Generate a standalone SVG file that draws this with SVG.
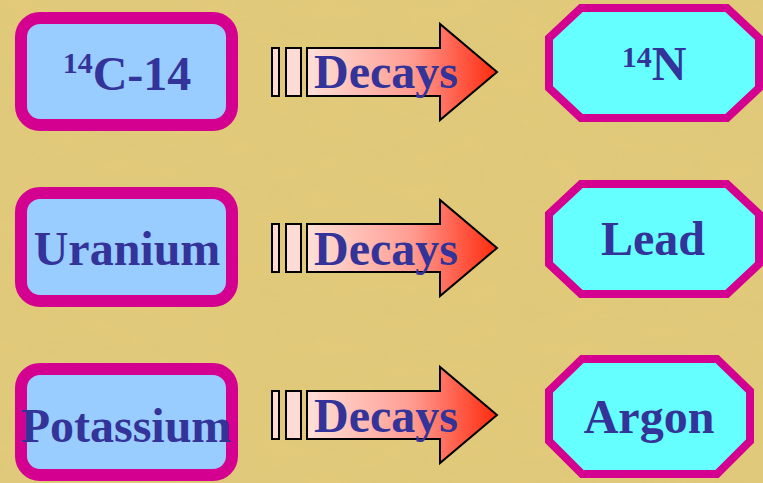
<svg xmlns="http://www.w3.org/2000/svg" width="763" height="483" viewBox="0 0 763 483">
<style>
.box{fill:#99CCFF;stroke:#D4008F;stroke-width:12}
.oct{fill:#66FFFF;stroke:#D4008F;stroke-width:8;stroke-linejoin:miter}
.lbl{font-family:"Liberation Serif","Times New Roman",serif;font-weight:bold;fill:#333399;font-size:48px;text-anchor:middle}
.sup{font-size:30px}
.bar{fill:#FFDCD3;stroke:#000;stroke-width:2}
.arr{fill:url(#ag);stroke:#000;stroke-width:2;stroke-linejoin:miter}
</style>
<defs>
<linearGradient id="ag" x1="0" y1="0" x2="1" y2="0">
<stop offset="0" stop-color="#FFE0D8"/>
<stop offset="0.55" stop-color="#FF9C92"/>
<stop offset="1" stop-color="#FF2A0E"/>
</linearGradient>
<filter id="tex" x="0" y="0" width="100%" height="100%">
<feTurbulence type="fractalNoise" baseFrequency="0.02 0.05" numOctaves="3" seed="4"/>
<feColorMatrix type="matrix" values="0 0 0 0 0.5  0 0 0 0 0.42  0 0 0 0 0.2  0 0 0 0.25 -0.05"/>
</filter>
</defs>
<rect width="763" height="483" fill="#E2CA7A"/>
<rect width="763" height="483" filter="url(#tex)" opacity="0.45"/>

<g id="c14">
<rect class="box" x="21" y="18" width="211" height="107" rx="19"/>
<text class="lbl" x="127" y="90"><tspan class="sup" dy="-17">14</tspan><tspan dy="17">C-14</tspan></text>
</g>
<g id="uranium">
<rect class="box" x="21" y="193" width="211" height="108" rx="19"/>
<text class="lbl" x="127" y="265">Uranium</text>
</g>
<g id="potassium">
<rect class="box" x="21" y="369" width="211" height="106" rx="19"/>
<text class="lbl" x="126" y="442">Potassium</text>
</g>

<g id="n14">
<polygon class="oct" points="581,8 727,8 759,38 759,88 727,118 581,118 549,88 549,38"/>
<text class="lbl" x="654" y="80"><tspan class="sup" dy="-13">14</tspan><tspan dy="13">N</tspan></text>
</g>
<g id="lead">
<polygon class="oct" points="581,184 727,184 759,214 759,264 727,294 581,294 549,264 549,214"/>
<text class="lbl" x="653" y="255">Lead</text>
</g>
<g id="argon">
<polygon class="oct" points="582,359 717,359 750,391 750,441 717,474 582,474 549,441 549,391"/>
<text class="lbl" x="649" y="433">Argon</text>
</g>

<g id="connectors">
<g id="arrow1">
<rect class="bar" x="272" y="48" width="7" height="48"/>
<rect class="bar" x="286" y="48" width="15" height="48"/>
<polygon class="arr" points="307,48 440,48 440,24 497,72 440,120 440,96 307,96"/>
<text class="lbl" x="386" y="88">Decays</text>
</g>
<g id="arrow2">
<rect class="bar" x="272" y="224" width="7" height="48"/>
<rect class="bar" x="286" y="224" width="15" height="48"/>
<polygon class="arr" points="307,224 440,224 440,200 497,248 440,296 440,272 307,272"/>
<text class="lbl" x="386" y="265">Decays</text>
</g>
<g id="arrow3">
<rect class="bar" x="272" y="391" width="7" height="48"/>
<rect class="bar" x="286" y="391" width="15" height="48"/>
<polygon class="arr" points="307,391 440,391 440,367 497,415 440,463 440,439 307,439"/>
<text class="lbl" x="386" y="432">Decays</text>
</g>
</g>
</svg>
